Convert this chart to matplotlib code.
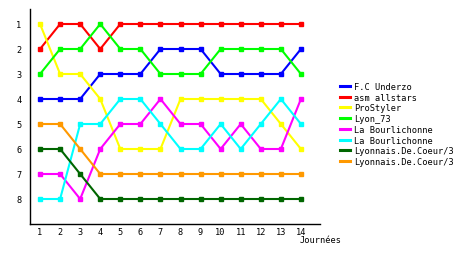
import matplotlib
matplotlib.use("Agg")
import matplotlib.pyplot as plt
from matplotlib.lines import Line2D

# journées 1..14, classement de chaque équipe
journees = list(range(1, 15))

fc_underzo = [4, 4, 4, 3, 3, 3, 2, 2, 2, 3, 3, 3, 3, 2]
asm_allstars = [2, 1, 1, 2, 1, 1, 1, 1, 1, 1, 1, 1, 1, 1]
prostyler = [1, 3, 3, 4, 6, 6, 6, 4, 4, 4, 4, 4, 5, 6]
lyon_73 = [3, 2, 2, 1, 2, 2, 3, 3, 3, 2, 2, 2, 2, 3]
bourlichonne_a = [7, 7, 8, 6, 5, 5, 4, 5, 5, 6, 5, 6, 6, 4]
bourlichonne_b = [8, 8, 5, 5, 4, 4, 5, 6, 6, 5, 6, 5, 4, 5]
coeur_a = [6, 6, 7, 8, 8, 8, 8, 8, 8, 8, 8, 8, 8, 8]
coeur_b = [5, 5, 6, 7, 7, 7, 7, 7, 7, 7, 7, 7, 7, 7]

series = [
    ("F.C Underzo", fc_underzo, "#0000ff"),
    ("asm allstars", asm_allstars, "#ff0000"),
    ("ProStyler", prostyler, "#ffff00"),
    ("Lyon_73", lyon_73, "#00ff00"),
    ("La Bourlichonne", bourlichonne_a, "#ff00ff"),
    ("La Bourlichonne", bourlichonne_b, "#00ffff"),
    ("Lyonnais.De.Coeur/3", coeur_a, "#006600"),
    ("Lyonnais.De.Coeur/3", coeur_b, "#ff9900"),
]

plt.rcParams["font.family"] = "DejaVu Sans Mono"
plt.rcParams["font.size"] = 6.2

fig = plt.figure(figsize=(4.6, 2.55), dpi=100)
ax = fig.add_axes([30 / 460, 30 / 255, 290 / 460, 215 / 255])

handles = []
for name, vals, col in series:
    ax.plot(journees, vals, color=col, linewidth=1.5, marker="s",
            markersize=2.2)
    handles.append(Line2D([], [], color=col, linewidth=2.2, label=name))

ax.set_xlim(0.5, 14.95)
ax.set_ylim(9, 0.4)
ax.set_xticks(journees)
ax.set_yticks(range(1, 9))
ax.tick_params(length=0, pad=2)
ax.tick_params(axis="y", pad=6)
for s in ["top", "right"]:
    ax.spines[s].set_visible(False)
ax.spines["left"].set_linewidth(1)
ax.spines["bottom"].set_linewidth(1)

fig.text(300 / 460, 1 - 241 / 255, "Journées", va="center", ha="left")

ax.legend(handles=handles, loc="upper left",
          bbox_to_anchor=(340 / 460, 1 - 83 / 255),
          bbox_transform=fig.transFigure, frameon=False, handlelength=1.15,
          handletextpad=0.5, labelspacing=0.2, borderaxespad=0,
          borderpad=0)

fig.savefig("out.png", dpi=100)
